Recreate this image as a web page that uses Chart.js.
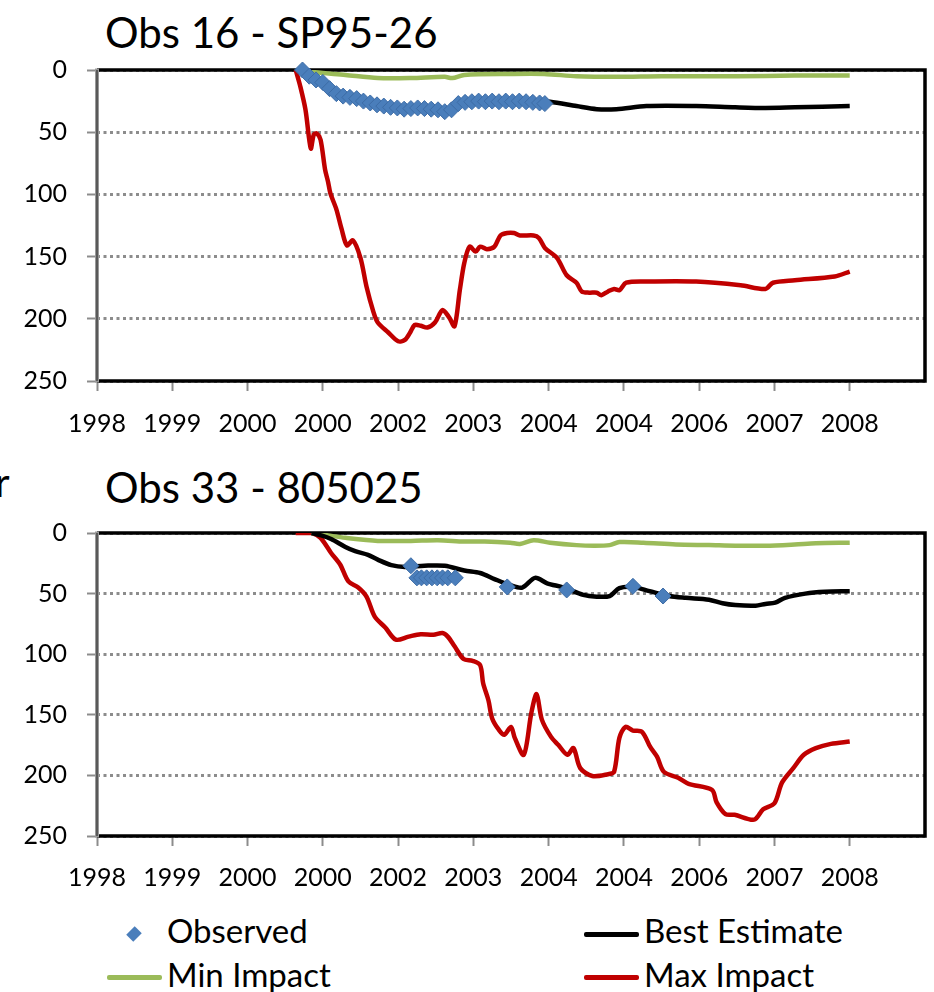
<!DOCTYPE html>
<html>
<head>
<meta charset="utf-8">
<script src="https://cdn.jsdelivr.net/npm/chart.js@4.4.0/dist/chart.umd.min.js"></script>
<style>
  body { margin: 0; background: #fff; }
  #wrap { position: relative; width: 934px; height: 992px; overflow: hidden; font-family: Lato, sans-serif; color: #000; }
  .title { position: absolute; left: 105px; font-size: 42px; line-height: 42px; white-space: nowrap; }
  canvas { position: absolute; left: 0; }
  .leg { position: absolute; font-size: 33px; line-height: 33px; white-space: nowrap; }
  .mark { position: absolute; height: 5px; border-radius: 2px; }
  .diamond { position: absolute; width: 10px; height: 10px; background: #4a7ebb; transform: rotate(45deg) scaleY(1.2); }
</style>
</head>
<body>
<div id="wrap">
  <div class="title" style="top:11px">Obs 16 - SP95-26</div>
  <div class="title" style="top:466px">Obs 33 - 805025</div>
  <div class="leg" style="left:-5px;top:462px;font-size:40px;line-height:40px">r</div>
  <canvas id="top" width="934" height="450" style="top:0"></canvas>
  <canvas id="bottom" width="934" height="450" style="top:450px"></canvas>

  <div class="diamond" style="left:129px;top:929px"></div>
  <div class="leg" style="left:167px;top:914px">Observed</div>
  <div class="mark" style="left:584px;top:932px;width:55px;background:#000"></div>
  <div class="leg" style="left:644px;top:914px">Best Estimate</div>
  <div class="mark" style="left:107px;top:975px;width:55px;background:#9bbb59"></div>
  <div class="leg" style="left:167px;top:958px">Min Impact</div>
  <div class="mark" style="left:584px;top:975px;width:55px;background:#c00000"></div>
  <div class="leg" style="left:644px;top:958px">Max Impact</div>
</div>
<script>
// x positions are in tick units: 0 = first label (1998), 10 = last label (2008)
const xLabels = ['1998', '1999', '2000', '2000', '2002', '2003', '2004', '2004', '2006', '2007', '2008'];
const yTicks = [0, 50, 100, 150, 200, 250];

// Obs 16 - SP95-26
const topObsX = [2.73, 2.82, 2.91, 3.00, 3.09, 3.18, 3.27, 3.36, 3.45, 3.54, 3.63, 3.72, 3.81, 3.90, 3.99, 4.08, 4.17, 4.26, 4.35,
  4.44, 4.53, 4.62, 4.71, 4.80, 4.89, 4.98, 5.07, 5.16, 5.25, 5.34, 5.43, 5.52, 5.61, 5.70, 5.79, 5.88, 5.95];
const topObsY = [0, 5, 8, 10, 15, 19, 21, 22, 23, 25, 26.5, 28, 29, 30, 30.5, 31.5, 31, 30.5, 31,
  31.5, 32, 33.5, 32, 27, 26, 25.5, 25, 25.5, 25, 25.5, 25, 25.5, 25, 25.5, 26, 26.5, 27];
const topBestX = [2.73, 2.85, 2.98, 3.11, 3.21, 3.34, 3.47, 3.73, 4.00, 4.26, 4.43, 4.62, 4.70, 4.83, 5.15, 5.50, 5.80, 6.02, 6.37,
  6.64, 6.90, 7.30, 7.96, 8.48, 8.88, 9.27, 10.00];
const topBestY = [0, 7, 12, 17, 21, 22, 25, 29, 31, 31, 32, 33, 32, 27, 26, 25.5, 25, 25.5, 29,
  31.5, 31.5, 29, 29, 30, 30.5, 30, 29];
const topMinX = [2.73, 2.85, 3.30, 3.73, 4.17, 4.62, 4.72, 4.88, 5.49, 5.94, 6.37, 6.90, 7.50, 8.50, 9.27, 10.00];
const topMinY = [0, 1.5, 4, 6.5, 6.5, 5.5, 6.5, 4, 3.2, 3.2, 5, 5.5, 5, 5, 4.5, 4.5];
const topMaxX = [2.64, 2.70, 2.77, 2.84, 2.88, 2.92, 2.97, 3.03, 3.07, 3.10, 3.18, 3.25, 3.32, 3.40, 3.50, 3.58, 3.67, 3.73, 3.87,
  4.00, 4.09, 4.16, 4.22, 4.30, 4.39, 4.49, 4.59, 4.68, 4.75, 4.82, 4.88, 4.95, 5.03, 5.09, 5.18, 5.28, 5.36, 5.45, 5.54,
  5.62, 5.80, 5.87, 5.95, 6.11, 6.24, 6.37, 6.44, 6.54, 6.64, 6.70, 6.79, 6.87, 6.94, 7.03, 7.30, 7.96, 8.55, 8.88, 8.98,
  9.27, 9.80, 10.00];
const topMaxY = [0, 13, 32, 63, 52, 51, 56, 80, 90, 99, 112, 128, 141, 137, 151, 174, 194, 203, 211,
  218, 217, 211, 205, 205.6, 207, 203, 193, 199, 206, 177, 155, 142, 146, 142, 144, 142, 133, 131, 131,
  133, 133, 135, 143, 151, 165, 171, 178, 179, 179, 181, 178, 176, 177, 171, 170, 170, 173, 176, 171,
  169, 166, 162];

// Obs 33 - 805025
const botObsX = [4.17, 4.25, 4.31, 4.38, 4.45, 4.52, 4.59, 4.66, 4.76, 5.45, 6.24, 7.12, 7.52];
const botObsY = [27, 37, 37, 37, 37, 37, 37, 37, 37, 44.5, 47, 44, 52];
const botBestX = [2.85, 2.98, 3.11, 3.30, 3.43, 3.60, 3.73, 3.91, 4.09, 4.35, 4.62, 4.88, 5.09, 5.28, 5.49, 5.65, 5.82, 5.98, 6.20,
  6.46, 6.64, 6.81, 6.94, 7.12, 7.34, 7.60, 7.82, 8.13, 8.31, 8.48, 8.75, 8.88, 9.01, 9.14, 9.41, 9.67, 10.00];
const botBestY = [0, 2, 5, 11.5, 15, 18, 22, 26.5, 28, 27, 27, 31, 33, 38, 43, 45, 37, 41.5, 45,
  51, 52.5, 52, 45.5, 44.5, 48, 52, 53.5, 55, 58, 59.5, 60, 58.5, 57.5, 53.5, 50, 48.5, 48];
const botMinX = [2.85, 3.07, 3.30, 3.73, 4.17, 4.53, 4.88, 5.15, 5.49, 5.62, 5.80, 6.02, 6.37, 6.60, 6.81, 6.94, 7.26, 7.69, 8.13,
  8.48, 8.88, 9.27, 9.55, 10.00];
const botMinY = [0, 2, 4, 6.5, 6.5, 6, 7, 7, 8, 9, 6, 8, 10, 10.5, 10, 7.5, 8, 9.5, 10,
  10.5, 10.5, 9.5, 8.5, 8];
const botMaxX = [2.64, 2.85, 2.97, 3.11, 3.23, 3.34, 3.47, 3.58, 3.69, 3.83, 3.97, 4.14, 4.30, 4.47, 4.59, 4.66, 4.75, 4.87, 4.99,
  5.09, 5.13, 5.20, 5.25, 5.34, 5.41, 5.50, 5.55, 5.67, 5.77, 5.84, 5.91, 6.03, 6.13, 6.25, 6.33, 6.42, 6.58, 6.79, 6.87,
  6.94, 7.02, 7.12, 7.24, 7.35, 7.44, 7.53, 7.72, 7.86, 8.17, 8.23, 8.35, 8.47, 8.73, 8.85, 9.00, 9.10, 9.25, 9.39, 9.55,
  9.75, 10.00];
const botMaxY = [0, 0, 4, 16.5, 26, 40, 45, 52.5, 69, 78, 88, 85.5, 83.5, 84, 82.5, 85.5, 93.5, 104, 105.5,
  109, 124, 138, 153, 162.5, 166.5, 160, 169, 183, 148.5, 133, 154, 168, 175, 183, 177.5, 194, 200.5, 199, 197,
  169, 160, 163, 164, 176.5, 184.5, 197, 202, 207, 212, 222, 232, 232.5, 236.5, 228, 223, 206, 194, 183, 177.5,
  174, 172];

const GRID = '#8c8c8c';

function pts(xs, ys) {
  return xs.map((x, i) => ({ x: x, y: ys[i] }));
}

// black frame on top/right/bottom, grey double line on the left
const frame = {
  id: 'frame',
  beforeDatasetsDraw(chart) {
    const { ctx, chartArea: a } = chart;
    ctx.save();
    ctx.lineWidth = 3.5;
    ctx.strokeStyle = '#000';
    ctx.beginPath();
    ctx.moveTo(a.left, a.top);
    ctx.lineTo(a.right, a.top);
    ctx.lineTo(a.right, a.bottom);
    ctx.lineTo(a.left, a.bottom);
    ctx.stroke();
    ctx.strokeStyle = '#999';
    ctx.lineWidth = 4;
    ctx.beginPath();
    ctx.moveTo(a.left, a.top - 1.5);
    ctx.lineTo(a.left, a.bottom + 1.5);
    ctx.stroke();
    ctx.strokeStyle = '#444';
    ctx.lineWidth = 1.5;
    ctx.beginPath();
    ctx.moveTo(a.left, a.top);
    ctx.lineTo(a.left, a.bottom);
    ctx.stroke();
    ctx.restore();
  }
};

function makeChart(id, padTop, xHeight, labelPad, obs, best, min, max) {
  const lineDefaults = { showLine: true, pointRadius: 0, borderWidth: 4.5, tension: 0.3, fill: false };
  new Chart(document.getElementById(id), {
    type: 'scatter',
    data: {
      datasets: [
        { label: 'Observed', data: obs, showLine: false, pointStyle: 'rectRot', pointRadius: 8,
          backgroundColor: '#4a7ebb', borderColor: '#3d6ca6', borderWidth: 1, clip: false },
        Object.assign({ label: 'Best Estimate', data: best, borderColor: '#000' }, lineDefaults),
        Object.assign({ label: 'Min Impact', data: min, borderColor: '#9bbb59' }, lineDefaults),
        Object.assign({ label: 'Max Impact', data: max, borderColor: '#c00000' }, lineDefaults)
      ]
    },
    options: {
      responsive: false,
      animation: false,
      devicePixelRatio: 1,
      layout: { padding: { top: padTop, right: 4, left: 0, bottom: 0 } },
      plugins: { legend: { display: false }, tooltip: { enabled: false } },
      scales: {
        x: {
          type: 'linear',
          min: 0,
          max: 11,
          afterFit: function(scale) { scale.height = xHeight; },
          afterBuildTicks: function(scale) { scale.ticks = xLabels.map((l, i) => ({ value: i })); },
          ticks: {
            autoSkip: false,
            maxRotation: 0,
            padding: labelPad,
            color: '#000',
            font: { family: 'Lato', size: 25 },
            callback: function(v) { return xLabels[v]; }
          },
          grid: { drawOnChartArea: false, tickLength: 10, tickColor: GRID, tickWidth: 2 },
          border: { display: false }
        },
        y: {
          reverse: true,
          min: 0,
          max: 250,
          afterFit: function(scale) { scale.width = 97; },
          afterBuildTicks: function(scale) { scale.ticks = yTicks.map(v => ({ value: v })); },
          ticks: {
            padding: 20,
            color: '#000',
            font: { family: 'Lato', size: 25 }
          },
          grid: { color: GRID, lineWidth: 3, tickLength: 10, tickColor: GRID, tickWidth: 2, tickBorderDash: [] },
          border: { display: false, dash: [3, 3.5] }
        }
      }
    },
    plugins: [frame]
  });
}

makeChart('top', 70, 69, 18, pts(topObsX, topObsY), pts(topBestX, topBestY), pts(topMinX, topMinY), pts(topMaxX, topMaxY));
makeChart('bottom', 83, 64, 17, pts(botObsX, botObsY), pts(botBestX, botBestY), pts(botMinX, botMinY), pts(botMaxX, botMaxY));
</script>
</body>
</html>
